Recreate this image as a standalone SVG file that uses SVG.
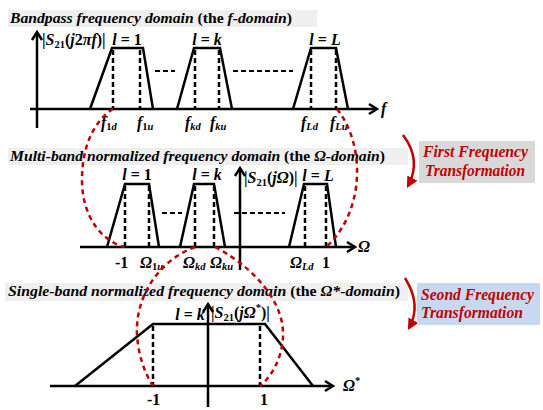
<svg xmlns="http://www.w3.org/2000/svg" width="543" height="410" viewBox="0 0 543 410">
<style>
text{font-family:"Liberation Serif","Times New Roman",serif;font-weight:bold;fill:#000}
.t{font-size:15.5px}
.i{font-style:italic}
.lb{font-size:16px}
.sub{font-size:10.5px}
.ax{fill:none;stroke:#000;stroke-width:2.5}
.tr{fill:none;stroke:#000;stroke-width:2.5;stroke-linejoin:miter}
.dv{stroke:#000;stroke-width:2.5;stroke-dasharray:5 3}
.dh{stroke:#000;stroke-width:2;stroke-dasharray:5 3}
.rd{fill:none;stroke:#c00000;stroke-width:2.5;stroke-dasharray:5 4}
.bar{fill:#efefef}
.rt{fill:#c00000;font-size:16px;font-style:italic}
.ra{fill:none;stroke:#c00000;stroke-width:2.5}
</style>
<defs>
<marker id="rh" viewBox="0 0 10 10" refX="8" refY="5" markerWidth="4.5" markerHeight="4.5" orient="auto" markerUnits="strokeWidth">
<path d="M0,0 L10,5 L0,10 z" fill="#c00000"/>
</marker>
</defs>

<!-- Section 1 -->
<g id="title1">
<rect class="bar" x="8" y="10" width="309" height="17"/>
<text class="t" x="10" y="23" textLength="282" lengthAdjust="spacingAndGlyphs"><tspan class="i">Bandpass frequency domain</tspan> (the <tspan class="i">f-domain</tspan>)</text>
</g>
<g id="axes1">
<line class="ax" x1="37" y1="128" x2="37" y2="33"/>
<polyline class="ax" points="32,40 37,32 42,40"/>
<line class="ax" x1="30" y1="109" x2="376" y2="109"/>
<polyline class="ax" points="369,104 377,109 369,114"/>
<text class="lb i" x="381" y="114">f</text>
<text class="lb" x="42" y="45">|<tspan class="i">S</tspan><tspan class="sub" dy="3">21</tspan><tspan dy="-3">(</tspan><tspan class="i">j</tspan>2<tspan class="i">πf</tspan>)|</text>
</g>
<g id="band1-1">
<polyline class="tr" points="90,109 112,48 143,48 153,109"/>
<line class="dv" x1="113" y1="50" x2="113" y2="109"/>
<line class="dv" x1="140" y1="50" x2="140" y2="109"/>
<text class="lb" x="127" y="45" text-anchor="middle"><tspan class="i">l</tspan> = 1</text>
<text class="lb" x="101" y="128"><tspan class="i">f</tspan><tspan class="sub" dy="2">1<tspan class="i">d</tspan></tspan></text>
<text class="lb" x="137" y="128"><tspan class="i">f</tspan><tspan class="sub" dy="2">1<tspan class="i">u</tspan></tspan></text>
</g>
<g id="band1-k">
<polyline class="tr" points="177,109 194,48 220,48 232,109"/>
<line class="dv" x1="195" y1="50" x2="195" y2="109"/>
<line class="dv" x1="219" y1="50" x2="219" y2="109"/>
<text class="lb" x="207" y="45" text-anchor="middle"><tspan class="i">l</tspan> = <tspan class="i">k</tspan></text>
<text class="lb" x="185" y="128"><tspan class="i">f</tspan><tspan class="sub i" dy="2">kd</tspan></text>
<text class="lb" x="210" y="128"><tspan class="i">f</tspan><tspan class="sub i" dy="2">ku</tspan></text>
</g>
<g id="band1-L">
<polyline class="tr" points="293,109 311,48 336,48 348,109"/>
<line class="dv" x1="311" y1="50" x2="311" y2="109"/>
<line class="dv" x1="336" y1="50" x2="336" y2="109"/>
<text class="lb" x="325" y="45" text-anchor="middle"><tspan class="i">l</tspan> = <tspan class="i">L</tspan></text>
<text class="lb" x="301" y="128"><tspan class="i">f</tspan><tspan class="sub i" dy="2">Ld</tspan></text>
<text class="lb" x="330" y="128"><tspan class="i">f</tspan><tspan class="sub i" dy="2">Lu</tspan></text>
</g>
<g id="dots1">
<line class="dh" x1="155" y1="71" x2="175" y2="71"/>
<line class="dh" x1="233" y1="71" x2="293" y2="71"/>
</g>

<!-- Section 2 -->
<g id="title2">
<rect class="bar" x="8" y="148" width="400" height="17"/>
<text class="t" x="10" y="161" textLength="375" lengthAdjust="spacingAndGlyphs"><tspan class="i">Multi-band normalized frequency domain</tspan> (the <tspan class="i">Ω-domain</tspan>)</text>
</g>
<g id="axes2">
<line class="ax" x1="240" y1="270" x2="240" y2="169"/>
<polyline class="ax" points="235,176 240,168 245,176"/>
<line class="ax" x1="80" y1="247" x2="354" y2="247"/>
<polyline class="ax" points="347,242 355,247 347,252"/>
<text class="lb i" x="358" y="252">Ω</text>
<text class="lb" x="244" y="183">|<tspan class="i">S</tspan><tspan class="sub" dy="3">21</tspan><tspan dy="-3">(</tspan><tspan class="i">jΩ</tspan>)|</text>
</g>
<g id="band2-1">
<polyline class="tr" points="107,247 125,184 149,184 159,247"/>
<line class="dv" x1="125" y1="186" x2="125" y2="247"/>
<line class="dv" x1="149" y1="186" x2="149" y2="247"/>
<text class="lb" x="137" y="180" text-anchor="middle"><tspan class="i">l</tspan> = 1</text>
<text class="lb" x="115" y="268">-1</text>
<text class="lb" x="140" y="268"><tspan class="i">Ω</tspan><tspan class="sub" dy="2">1<tspan class="i">u</tspan></tspan></text>
</g>
<g id="band2-k">
<polyline class="tr" points="180,247 194,184 214,184 225,247"/>
<line class="dv" x1="195" y1="186" x2="195" y2="247"/>
<line class="dv" x1="214" y1="186" x2="214" y2="247"/>
<text class="lb" x="207" y="180" text-anchor="middle"><tspan class="i">l</tspan> = <tspan class="i">k</tspan></text>
<text class="lb" x="183" y="268"><tspan class="i">Ω</tspan><tspan class="sub i" dy="2">kd</tspan></text>
<text class="lb" x="210" y="268"><tspan class="i">Ω</tspan><tspan class="sub i" dy="2">ku</tspan></text>
</g>
<g id="band2-L">
<polyline class="tr" points="289,247 304,184 327,184 336,247"/>
<line class="dv" x1="305" y1="186" x2="305" y2="247"/>
<line class="dv" x1="326" y1="186" x2="326" y2="247"/>
<text class="lb" x="318" y="181" text-anchor="middle"><tspan class="i">l</tspan> = <tspan class="i">L</tspan></text>
<text class="lb" x="290" y="268"><tspan class="i">Ω</tspan><tspan class="sub i" dy="2">Ld</tspan></text>
<text class="lb" x="322" y="268">1</text>
</g>
<g id="dots2">
<line class="dh" x1="162" y1="213" x2="182" y2="213"/>
<line class="dh" x1="234" y1="213" x2="285" y2="213"/>
</g>

<!-- Section 3 -->
<g id="title3">
<rect class="bar" x="5" y="283" width="403" height="18"/>
<text class="t" x="8" y="296" textLength="392" lengthAdjust="spacingAndGlyphs"><tspan class="i">Single-band normalized  frequency domain</tspan> (the <tspan class="i">Ω*-domain</tspan>)</text>
</g>
<g id="axes3">
<line class="ax" x1="208" y1="407" x2="208" y2="305"/>
<polyline class="ax" points="203,312 208,304 213,312"/>
<line class="ax" x1="50" y1="386" x2="332" y2="386"/>
<polyline class="ax" points="325,381 333,386 325,391"/>
<text class="lb i" x="343" y="391">Ω<tspan class="sub" dy="-7" font-style="normal">*</tspan></text>
<text class="lb" x="211" y="318">|<tspan class="i">S</tspan><tspan class="sub" dy="3">21</tspan><tspan dy="-3">(</tspan><tspan class="i">jΩ</tspan><tspan class="sub" dy="-7">*</tspan><tspan dy="7">)|</tspan></text>
</g>
<g id="band3">
<polyline class="tr" points="75,386 153,324 265,324 313,386"/>
<line class="dv" x1="153" y1="326" x2="153" y2="386"/>
<line class="dv" x1="260" y1="326" x2="260" y2="386"/>
<text class="lb" x="190" y="320" text-anchor="middle"><tspan class="i">l</tspan> = <tspan class="i">k</tspan></text>
<text class="lb" x="147" y="405">-1</text>
<text class="lb" x="260" y="405">1</text>
</g>

<!-- Transformation connectors -->
<g id="connectors">
<path class="rd" d="M113,109 C95,120 82,145 82,180 C82,215 100,240 124,247"/>
<path class="rd" d="M337,109 C350,125 358,150 357,175 C356,210 340,235 326,247"/>
<path class="rd" d="M195,247 C160,260 135,295 137,335 C139,362 148,378 153,386"/>
<path class="rd" d="M215,247 C250,265 285,300 283,337 C282,360 270,378 260,386"/>
<path class="ra" d="M403,135 Q422,160 408,186" marker-end="url(#rh)"/>
<path class="ra" d="M405,278 Q422,305 409,328" marker-end="url(#rh)"/>
</g>

<g id="box1">
<rect x="419" y="141" width="116" height="42" fill="#d9d9d9"/>
<text class="rt" x="423" y="157" textLength="105" lengthAdjust="spacingAndGlyphs">First Frequency</text>
<text class="rt" x="425" y="176" textLength="100" lengthAdjust="spacingAndGlyphs">Transformation</text>
</g>
<g id="box2">
<rect x="417" y="283" width="123" height="42" fill="#c6d9f0"/>
<text class="rt" x="421" y="300" textLength="113" lengthAdjust="spacingAndGlyphs">Seond Frequency</text>
<text class="rt" x="421" y="318" textLength="102" lengthAdjust="spacingAndGlyphs">Transformation</text>
</g>
</svg>
